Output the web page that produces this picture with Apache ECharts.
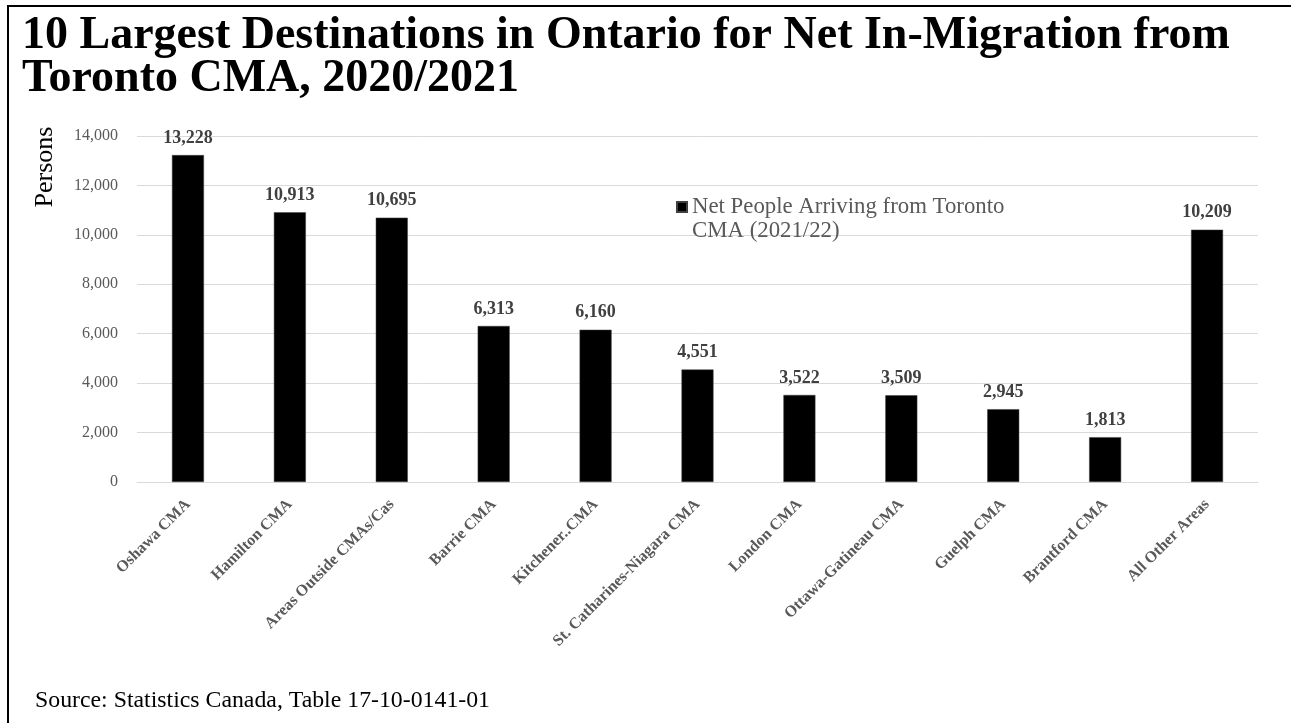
<!DOCTYPE html>
<html>
<head>
<meta charset="utf-8">
<script src="https://cdn.jsdelivr.net/npm/echarts@6/dist/echarts.min.js"></script>
<style>
  html, body { margin: 0; padding: 0; background: #fff; }
  #main { width: 1291px; height: 723px; }
</style>
</head>
<body>
<div id="main"></div>
<script>
// data
var places = ['Oshawa CMA', 'Hamilton CMA', 'Areas Outside CMAs/Cas', 'Barrie CMA', 'Kitchener..CMA',
  'St. Catharines-Niagara CMA', 'London CMA', 'Ottawa-Gatineau CMA', 'Guelph CMA', 'Brantford CMA', 'All Other Areas'];
var arrivals = [13228, 10913, 10695, 6313, 6160, 4551, 3522, 3509, 2945, 1813, 10209];
var seriesName = 'Net People Arriving from Toronto\nCMA (2021/22)';

var font = '"Liberation Serif", "DejaVu Serif", serif';
var chart = echarts.init(document.getElementById('main'));

chart.setOption({
  backgroundColor: '#fff',
  animation: false,
  title: [{
    text: '10 Largest Destinations in Ontario for Net In-Migration from\nToronto CMA, 2020/2021',
    left: 22,
    top: 15,
    padding: 0,
    textStyle: { fontFamily: font, fontSize: 46, fontWeight: 'bold', color: '#000', lineHeight: 43 }
  }, {
    text: 'Source: Statistics Canada, Table 17-10-0141-01',
    left: 35,
    top: 689,
    padding: 0,
    textStyle: { fontFamily: font, fontSize: 23.8, fontWeight: 'normal', color: '#000' }
  }],
  graphic: [{
    type: 'rect',
    shape: { x: 8, y: 6, width: 1400, height: 900 },
    style: { fill: 'none', stroke: '#000', lineWidth: 2 },
    silent: true
  }, {
    type: 'text',
    x: 45,
    y: 167,
    rotation: Math.PI / 2,
    style: { text: 'Persons', font: '26px ' + font, fill: '#000', align: 'center', verticalAlign: 'middle' }
  }],
  legend: {
    left: 676,
    top: 195,
    padding: 0,
    itemWidth: 10,
    itemHeight: 34,
    icon: 'path://M0,0 H10 V10 H0 Z M0,34 L0.01,34',
    textStyle: { fontFamily: font, fontSize: 22.8, color: '#595959', lineHeight: 24 },
    data: [seriesName]
  },
  grid: { left: 137, right: 33, top: 136, bottom: 241, containLabel: false },
  xAxis: {
    type: 'category',
    data: places,
    axisLine: { lineStyle: { color: '#d9d9d9', width: 1 } },
    axisTick: { show: false },
    axisLabel: {
      rotate: 45,
      interval: 0,
      margin: 20,
      fontFamily: font,
      fontSize: 16,
      fontWeight: 'bold',
      color: '#595959'
    }
  },
  yAxis: {
    type: 'value',
    min: 0,
    max: 14000,
    interval: 2000,
    axisLine: { show: false },
    axisTick: { show: false },
    splitLine: { lineStyle: { color: '#d9d9d9', width: 1 } },
    axisLabel: {
      margin: 19,
      fontFamily: font,
      fontSize: 16,
      color: '#595959',
      formatter: function (v) { return v.toLocaleString('en-US'); }
    }
  },
  series: [{
    name: seriesName,
    type: 'bar',
    data: arrivals,
    barWidth: 32,
    itemStyle: { color: '#000', borderColor: '#404040', borderWidth: 0.5 },
    label: {
      show: true,
      position: 'top',
      distance: 8,
      fontFamily: font,
      fontSize: 18,
      fontWeight: 'bold',
      color: '#404040',
      formatter: function (p) { return p.value.toLocaleString('en-US'); }
    }
  }]
});
</script>
</body>
</html>
